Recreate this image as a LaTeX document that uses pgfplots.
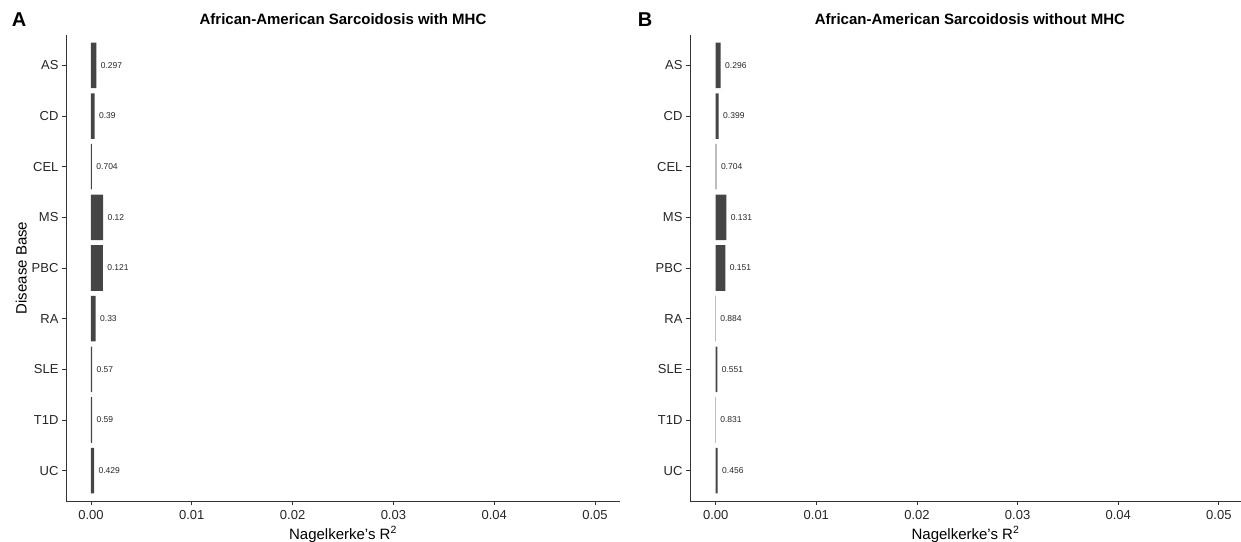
\documentclass[border=0pt]{standalone}
\usepackage{pgfplots}
\pgfplotsset{compat=1.18}
\usepackage{fontspec}
\setmainfont{Liberation Sans}

\definecolor{barfill}{HTML}{454545}
\definecolor{axisgray}{HTML}{333333}
\definecolor{ticktext}{HTML}{262626}

\tikzset{paneltitle/.style={font=\bfseries\fontsize{15}{16}\selectfont, yshift=16pt}}

\pgfplotsset{
  sarcpanel/.style={
    scale only axis,
    anchor=south west,
    height=466pt,
    xbar, bar width=0.9, bar shift=0pt,
    y dir=reverse,
    ymin=0.4, ymax=9.6,
    ytick={1,...,9},
    yticklabels={AS,CD,CEL,MS,PBC,RA,SLE,T1D,UC},
    xtick={0,0.01,0.02,0.03,0.04,0.05},
    /pgf/number format/assume math mode=true,
    xticklabel={\pgfmathprintnumber[fixed,fixed zerofill,precision=2]{\tick}},
    scaled x ticks=false,
    axis lines*=left,
    axis line style={axisgray, line width=0.9pt},
    tick align=outside,
    major tick length=4pt,
    tick style={axisgray, line width=0.9pt},
    ticklabel style={font=\fontsize{13}{14}\selectfont, text=ticktext},
    x tick label style={yshift=-2pt},
    xlabel={Nagelkerke's R\textsuperscript{2}},
    xlabel style={font=\fontsize{15}{16}\selectfont},
    ylabel style={font=\fontsize{15}{16}\selectfont, yshift=-2pt},
    point meta=explicit symbolic,
    nodes near coords,
    every node near coord/.append style={font=\fontsize{8.5}{9}\selectfont, anchor=west, xshift=1pt, text=black!85},
    clip=false,
  },
}

\begin{document}
\begin{tikzpicture}
\useasboundingbox (0,0) rectangle (1241pt,541pt);

% panel A: with MHC
\begin{axis}[sarcpanel,
    at={(66pt,40pt)}, width=554pt,
    xmin=-0.00248, xmax=0.05248,
    ylabel={Disease Base}]
\addplot[fill=barfill, draw=none] coordinates {
  (0.00053,1) [0.297]
  (0.00035,2) [0.39]
  (0.00009,3) [0.704]
  (0.00120,4) [0.12]
  (0.00117,5) [0.121]
  (0.00046,6) [0.33]
  (0.00011,7) [0.57]
  (0.00010,8) [0.59]
  (0.00030,9) [0.429]
};
\node[paneltitle] at (rel axis cs:0.5,1) {African-American Sarcoidosis with MHC};
\end{axis}

% panel B: without MHC
\begin{axis}[sarcpanel,
    at={(690pt,40pt)}, width=551pt,
    xmin=-0.00255, xmax=0.0522]
\addplot[fill=barfill, draw=none] coordinates {
  (0.00050,1) [0.296]
  (0.00030,2) [0.399]
  (0.00008,3) [0.704]
  (0.00106,4) [0.131]
  (0.00096,5) [0.151]
  (0.00001,6) [0.884]
  (0.00016,7) [0.551]
  (0.00002,8) [0.831]
  (0.00020,9) [0.456]
};
\node[paneltitle] at (rel axis cs:0.508,1) {African-American Sarcoidosis without MHC};
\end{axis}

\node[font=\bfseries\fontsize{20}{20}\selectfont] at (19pt,521pt) {A};
\node[font=\bfseries\fontsize{20}{20}\selectfont] at (645pt,521pt) {B};
\end{tikzpicture}
\end{document}
